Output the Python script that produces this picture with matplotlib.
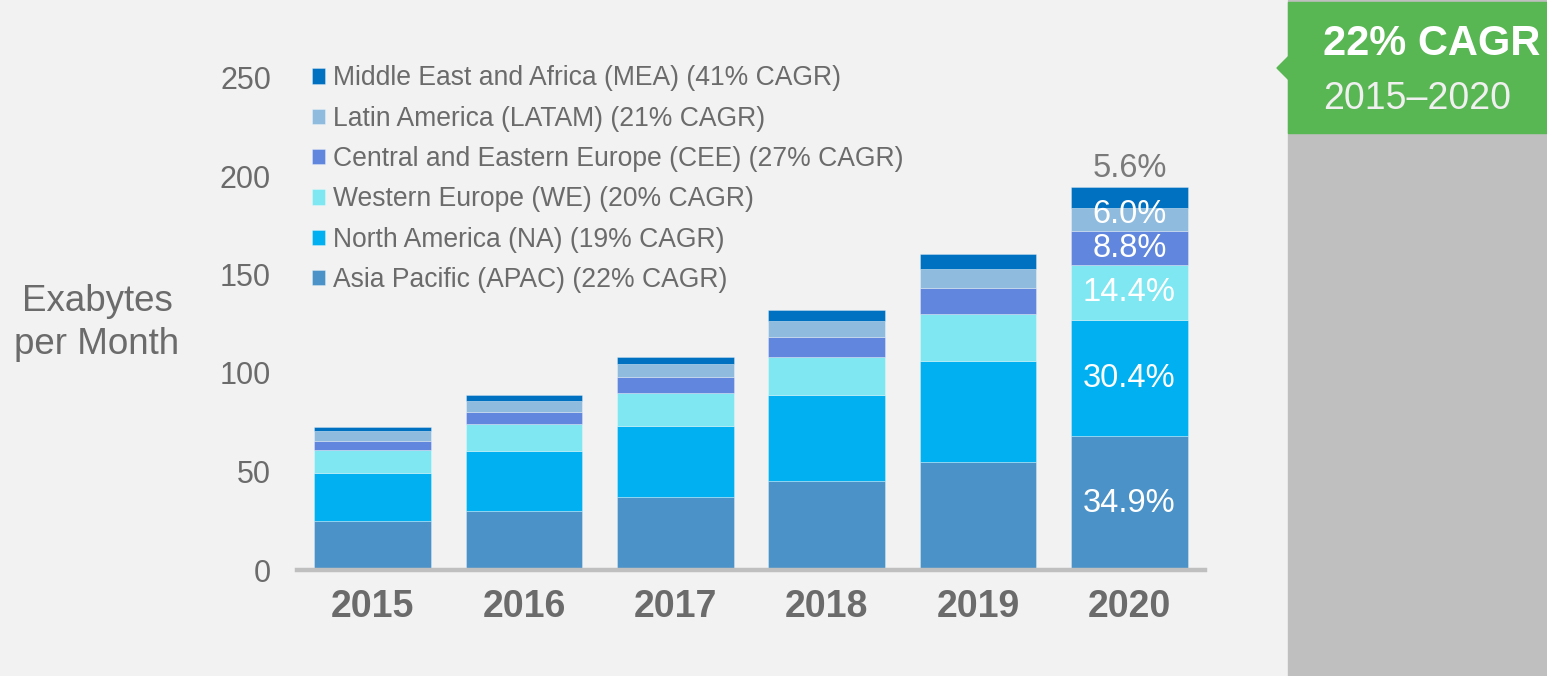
import matplotlib.pyplot as plt
from matplotlib.patches import Rectangle, Polygon
import numpy as np

plt.rcParams['font.family'] = ['Liberation Sans', 'DejaVu Sans']

years = ["2015", "2016", "2017", "2018", "2019", "2020"]

# Exabytes per month, by region
apac = [24.7, 29.9, 36.9, 45.2, 55.0, 67.8]
na = [24.7, 30.5, 36.4, 43.5, 51.1, 59.1]
we = [11.4, 13.6, 16.4, 19.6, 23.8, 28.0]
cee = [4.8, 6.4, 8.1, 10.1, 13.4, 17.1]
latam = [5.0, 5.4, 6.8, 8.1, 9.6, 11.7]
mea = [1.8, 2.9, 3.7, 5.5, 7.5, 10.8]

regions = [
    "Asia Pacific (APAC) (22% CAGR)",
    "North America (NA) (19% CAGR)",
    "Western Europe (WE) (20% CAGR)",
    "Central and Eastern Europe (CEE) (27% CAGR)",
    "Latin America (LATAM) (21% CAGR)",
    "Middle East and Africa (MEA) (41% CAGR)",
]
share_2020 = ["34.9%", "30.4%", "14.4%", "8.8%", "6.0%", "5.6%"]

colors = ["#4a92c7", "#00b0f0", "#7ee7f1", "#6086dd", "#8fbcde", "#0070c0"]
grey = "#6b6b6b"

series = [apac, na, we, cee, latam, mea]

fig = plt.figure(figsize=(15.47, 6.76), dpi=100, facecolor="#f2f2f2")
ax = fig.add_axes([297/1547, 106/676, 908/1547, 492.5/676])
ax.set_facecolor("#f2f2f2")

x = np.arange(len(years))
width = 0.773
bottom = np.zeros(len(years))
for vals, col, lab in zip(series, colors, regions):
    ax.bar(x, vals, width, bottom=bottom, color=col, label=lab,
           edgecolor=(1, 1, 1, 0.35), linewidth=0.6, zorder=2)
    bottom = bottom + np.array(vals)

# share labels on 2020 bar
base = 0
offsets = [0, 0, 0, 0, 2.5, 0]
for i, (vals, txt) in enumerate(zip(series, share_2020)):
    v = vals[-1]
    if i == len(series) - 1:
        ax.text(x[-1], base + v + 9.5, txt, ha="center", va="center",
                fontsize=23.5, color="#7a7a7a")
    else:
        ax.text(x[-1], base + v/2 + offsets[i], txt, ha="center", va="center",
                fontsize=23.5, color="white", zorder=3)
    base += v

ax.set_xlim(-0.5, 5.5)
ax.set_ylim(0, 250)
ax.set_yticks([0, 50, 100, 150, 200, 250])
ax.set_xticks(x)
ax.set_xticklabels(years, fontsize=27, fontweight="bold", color=grey)
ax.tick_params(axis="y", length=0, pad=18.7, labelsize=22, labelcolor=grey)
ax.tick_params(axis="x", length=0, pad=14)
for s in ["top", "right", "left"]:
    ax.spines[s].set_visible(False)
ax.spines["bottom"].set_color("#bfbfbf")
ax.spines["bottom"].set_linewidth(3.2)
ax.spines["bottom"].set_zorder(3)

h, l = ax.get_legend_handles_labels()
ax.legend(h[::-1], l[::-1], loc="upper left", bbox_to_anchor=(0.0165, 1.0246),
          frameon=False, fontsize=19.1, labelcolor=grey, handlelength=0.5,
          handleheight=0.5, handletextpad=0.3, labelspacing=0.54,
          borderpad=0, borderaxespad=0)

fig.text(97/1547, 1 - 323/676, "Exabytes\nper Month", ha="center", va="center",
         fontsize=26.5, color=grey, linespacing=1.27)

# right side panel
fig.patches.append(Rectangle((1288/1547, 0), 259/1547, 1, transform=fig.transFigure,
                             color="#bfbfbf", zorder=0))
green = "#58b653"
fig.patches.append(Rectangle((1288/1547, 1 - 133/676), 259/1547, 131/676,
                             transform=fig.transFigure, color=green, zorder=1))
fig.patches.append(Polygon([(1277/1547, 1 - 68/676), (1289/1547, 1 - 56/676),
                            (1289/1547, 1 - 80/676)], closed=True,
                           transform=fig.transFigure, color=green, zorder=1))
fig.text(1323/1547, 1 - 44/676, "22% CAGR", ha="left", va="center", fontsize=30,
         fontweight="bold", color="white")
fig.text(1323/1547, 1 - 99/676, "2015\u20132020", ha="left", va="center", fontsize=27,
         color="#f0f0f0")

plt.savefig("out.png", dpi=100, facecolor=fig.get_facecolor())
